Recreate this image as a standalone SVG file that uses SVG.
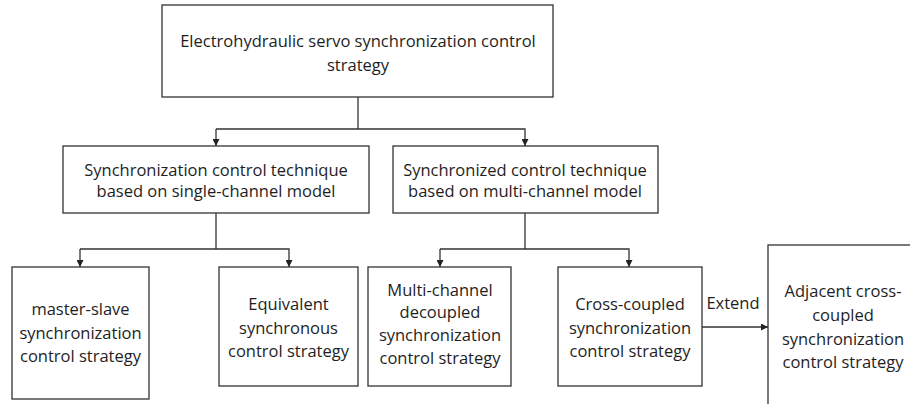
<svg xmlns="http://www.w3.org/2000/svg" width="910" height="404" viewBox="0 0 910 404">
<style>
rect{fill:#fff;stroke:#333;stroke-width:1.3}
text{font-family:"Open Sans","Noto Sans","Liberation Sans",sans-serif;font-size:16.5px;fill:#1e1e1e;text-anchor:middle}
.c{fill:none;stroke:#333;stroke-width:1.3}
</style>
<defs>
<marker id="a" viewBox="0 0 10 10" refX="10" refY="5" markerWidth="7" markerHeight="7" markerUnits="userSpaceOnUse" orient="auto">
<path d="M0,0L10,5L0,10z" fill="#222"/>
</marker>
</defs>
<rect width="910" height="404" style="stroke:none"/>
<g id="connectors">
<path class="c" d="M358,97V129"/>
<path class="c" d="M216,129H525V146" marker-end="url(#a)"/>
<path class="c" d="M216,129V146" marker-end="url(#a)"/>
<path class="c" d="M216,213V249"/>
<path class="c" d="M80,249H289V267" marker-end="url(#a)"/>
<path class="c" d="M80,249V267" marker-end="url(#a)"/>
<path class="c" d="M525,213V249"/>
<path class="c" d="M440,249H629V267" marker-end="url(#a)"/>
<path class="c" d="M440,249V267" marker-end="url(#a)"/>
<path class="c" d="M702,327H768" marker-end="url(#a)"/>
<text x="733" y="309">Extend</text>
</g>
<g id="root">
<rect x="162" y="5" width="391" height="92"/>
<text x="358" y="47">Electrohydraulic servo synchronization control</text>
<text x="358" y="71">strategy</text>
</g>
<g id="single">
<rect x="63" y="146" width="306" height="67"/>
<text x="216" y="176">Synchronization control technique</text>
<text x="216" y="197">based on single-channel model</text>
</g>
<g id="multi">
<rect x="393" y="146" width="265" height="67"/>
<text x="525" y="176">Synchronized control technique</text>
<text x="525" y="197">based on multi-channel model</text>
</g>
<g id="master">
<rect x="12" y="267" width="137" height="132"/>
<text x="80.5" y="315">master-slave</text>
<text x="80.5" y="338.5">synchronization</text>
<text x="80.5" y="362">control strategy</text>
</g>
<g id="equivalent">
<rect x="219" y="267" width="139" height="119"/>
<text x="288.5" y="309.5">Equivalent</text>
<text x="288.5" y="333.5">synchronous</text>
<text x="288.5" y="357">control strategy</text>
</g>
<g id="decoupled">
<rect x="368" y="267" width="143" height="119"/>
<text x="440" y="296">Multi-channel</text>
<text x="440" y="318">decoupled</text>
<text x="440" y="341">synchronization</text>
<text x="440" y="364">control strategy</text>
</g>
<g id="cross">
<rect x="558" y="267" width="144" height="119"/>
<text x="630" y="310">Cross-coupled</text>
<text x="630" y="333.5">synchronization</text>
<text x="630" y="357">control strategy</text>
</g>
<g id="adjacent">
<rect x="768" y="245" width="160" height="180"/>
<text x="843" y="297">Adjacent cross-</text>
<text x="843" y="321">coupled</text>
<text x="843" y="345">synchronization</text>
<text x="843" y="368">control strategy</text>
</g>
</svg>
